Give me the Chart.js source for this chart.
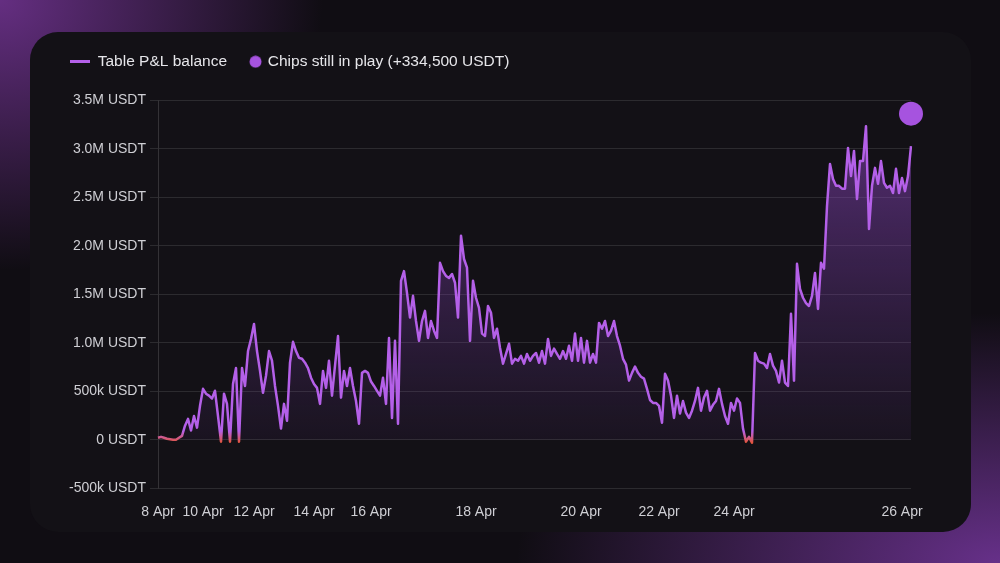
<!DOCTYPE html>
<html>
<head>
<meta charset="utf-8">
<script src="https://cdn.jsdelivr.net/npm/chart.js@4.4.1/dist/chart.umd.min.js"></script>
<style>
  html, body { margin: 0; padding: 0; }
  body {
    width: 1000px; height: 563px; overflow: hidden; position: relative;
    font-family: "Liberation Sans", Arial, sans-serif;
    background:
      radial-gradient(ellipse 430px 360px at 0% 0%, rgba(105, 48, 135, 0.95), rgba(105, 48, 135, 0) 75%),
      radial-gradient(ellipse 620px 320px at 100% 100%, rgba(112, 52, 150, 0.9), rgba(112, 52, 150, 0) 78%),
      #100d13;
  }
  .card {
    position: absolute; left: 30px; top: 32px; width: 941px; height: 500px;
    border-radius: 28px; background: #131116;
  }
  #wrap { position: absolute; left: 0; top: 0; width: 1000px; height: 563px; }
</style>
</head>
<body>
<div class="card"></div>
<div id="wrap"><canvas id="pnl"></canvas></div>
<script>
  // table balance, in thousands of USDT, one value per sample
  const balanceK = [
    20, 30, 20, 10, 5, 0, 0, 20, 40, 145, 215, 95, 245, 125, 350, 525,
    475, 455, 425, 505, 245, -20, 475, 370, -20, 575, 740, -20, 740, 555, 915, 1040,
    1195, 915, 710, 485, 660, 915, 815, 555, 350, 115, 370, 195, 795, 1010, 915, 845,
    835, 795, 740, 640, 575, 535, 370, 710, 535, 815, 455, 765, 1070, 435, 710, 555,
    740, 555, 400, 165, 690, 710, 690, 600, 555, 505, 455, 640, 370, 1050, 225, 1020,
    165, 1640, 1740, 1515, 1260, 1485, 1225, 1020, 1225, 1330, 1050, 1225, 1125, 1050, 1825, 1740,
    1690, 1670, 1710, 1620, 1260, 2105, 1865, 1775, 1020, 1640, 1465, 1360, 1095, 1070, 1380, 1310,
    1050, 1145, 950, 785, 885, 990, 785, 835, 815, 865, 785, 885, 815, 865, 895, 795,
    915, 785, 1040, 865, 940, 885, 835, 915, 835, 970, 815, 1095, 815, 1050, 795, 1020,
    795, 885, 795, 1205, 1145, 1225, 1070, 1125, 1225, 1070, 970, 835, 775, 610, 690, 755,
    690, 650, 630, 525, 410, 380, 380, 350, 175, 680, 610, 455, 225, 455, 270, 400,
    280, 225, 300, 400, 535, 300, 435, 505, 300, 360, 400, 525, 370, 245, 165, 380,
    300, 425, 380, 115, -20, 30, -30, 895, 815, 795, 785, 740, 885, 765, 710, 590,
    815, 590, 555, 1300, 610, 1815, 1555, 1465, 1410, 1380, 1485, 1720, 1350, 1825, 1765, 2410,
    2845, 2690, 2620, 2620, 2590, 2590, 3010, 2720, 2980, 2485, 2875, 2875, 3235, 2175, 2620, 2805,
    2640, 2875, 2650, 2600, 2620, 2545, 2795, 2545, 2700, 2565, 2720, 3030
  ];
  const chipsInPlayK = 334.5;

  // date labels and the sample each one sits on
  const dayLabels = ['8 Apr', '10 Apr', '12 Apr', '14 Apr', '16 Apr', '18 Apr', '20 Apr', '22 Apr', '24 Apr', '26 Apr'];
  const dayAt = [0, 15, 32, 52, 71, 106, 141, 167, 192, 248];

  const yMinK = -500;
  const yMaxK = 3500;
  const yStepK = 500;

  const PURPLE = '#b460e8';
  const DOT = '#a653df';
  const RED = '#e4553c';
  const FONT = '"Liberation Sans", Arial, sans-serif';

  const categories = balanceK.map(() => '');
  dayAt.forEach((idx, k) => { categories[idx] = dayLabels[k]; });

  const last = balanceK.length - 1;
  const chipsData = balanceK.map((v, i) => i === last ? v + chipsInPlayK : null);

  const fmtUsdt = v => {
    if (v === 0) return '0 USDT';
    if (Math.abs(v) < 1000) return v + 'k USDT';
    return (v / 1000).toFixed(1) + 'M USDT';
  };

  // small legend icons
  const makeIcon = (w, h, draw) => {
    const c = document.createElement('canvas');
    c.width = w; c.height = h;
    draw(c.getContext('2d'));
    return c;
  };
  const lineIcon = makeIcon(20, 3, g => { g.fillStyle = PURPLE; g.fillRect(0, 0, 20, 3); });
  const dotIcon = makeIcon(30, 13, g => {
    g.fillStyle = DOT; g.beginPath(); g.arc(20.5, 6.5, 6, 0, Math.PI * 2); g.fill();
  });

  // room between legend and plot
  const legendGap = {
    id: 'legendGap',
    afterInit(chart) {
      const fit = chart.legend.fit;
      chart.legend.fit = function () { fit.call(this); this.height += 21; };
    },
  };

  const lineStroke = ctx => {
    const chart = ctx.chart;
    if (!chart.chartArea) return PURPLE;
    const y = chart.scales.y;
    const g = chart.ctx.createLinearGradient(0, y.getPixelForValue(-30), 0, y.getPixelForValue(90));
    g.addColorStop(0, RED);
    g.addColorStop(1, PURPLE);
    return g;
  };

  const areaFill = ctx => {
    const chart = ctx.chart;
    if (!chart.chartArea) return 'rgba(140,70,190,0.2)';
    const y = chart.scales.y;
    const g = chart.ctx.createLinearGradient(0, y.getPixelForValue(yMaxK), 0, y.getPixelForValue(0));
    g.addColorStop(0, 'rgba(150,75,205,0.55)');
    g.addColorStop(1, 'rgba(120,60,170,0.07)');
    return g;
  };

  new Chart(document.getElementById('pnl'), {
    type: 'line',
    data: {
      labels: categories,
      datasets: [
        {
          label: 'Table P&L balance',
          data: balanceK,
          borderColor: lineStroke,
          backgroundColor: areaFill,
          borderWidth: 2.5,
          borderJoinStyle: 'round',
          fill: 'origin',
          pointRadius: 0,
          tension: 0,
        },
        {
          label: 'Chips still in play',
          data: chipsData,
          showLine: false,
          pointRadius: 12,
          pointHoverRadius: 12,
          pointBackgroundColor: DOT,
          pointBorderWidth: 0,
          clip: false,
        },
      ],
    },
    plugins: [legendGap],
    options: {
      responsive: true,
      maintainAspectRatio: false,
      animation: false,
      layout: { padding: { left: 57, right: 89, top: 41, bottom: 26 } },
      plugins: {
        tooltip: { enabled: false },
        legend: {
          position: 'top',
          align: 'start',
          labels: {
            usePointStyle: true,
            pointStyleWidth: 20,
            padding: 13,
            color: '#e6e6ea',
            font: { family: FONT, size: 15.5 },
            generateLabels: () => [
              { text: 'Table P&L balance', pointStyle: lineIcon, fontColor: '#e6e6ea', datasetIndex: 0, lineWidth: 0 },
              {
                text: 'Chips still in play (+' + (chipsInPlayK * 1000).toLocaleString('en-US') + ' USDT)',
                pointStyle: dotIcon, fontColor: '#e6e6ea', datasetIndex: 1, lineWidth: 0,
              },
            ],
          },
        },
      },
      scales: {
        x: {
          grid: { display: false, drawTicks: false },
          border: { display: false },
          ticks: {
            autoSkip: false,
            maxRotation: 0,
            minRotation: 0,
            padding: 16,
            color: '#cfcfd4',
            font: { family: FONT, size: 14 },
            callback: (v, i) => categories[i],
          },
        },
        y: {
          min: yMinK,
          max: yMaxK,
          afterFit: scale => { scale.width = 101; },
          grid: { color: 'rgba(255,255,255,0.11)', lineWidth: 1, tickLength: 8 },
          border: { display: true, color: 'rgba(255,255,255,0.14)' },
          ticks: {
            stepSize: yStepK,
            padding: 4,
            color: '#cfcfd4',
            font: { family: FONT, size: 14 },
            callback: v => fmtUsdt(v),
          },
        },
      },
    },
  });
</script>
</body>
</html>
